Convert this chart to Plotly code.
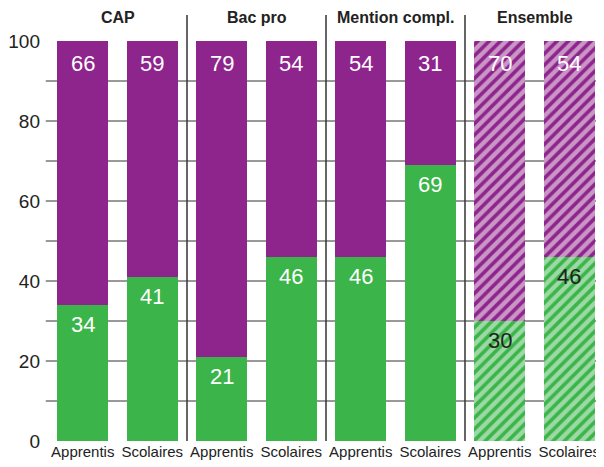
import plotly.graph_objects as go

groups = ["CAP", "Bac pro", "Mention compl.", "Ensemble"]
statuts = ["Apprentis", "Scolaires"]
vert = [34, 41, 21, 46, 46, 69, 30, 46]
violet = [66, 59, 79, 54, 54, 31, 70, 54]
y_ticks = [0, 20, 40, 60, 80, 100]

FONT = "Liberation Sans, Arial, sans-serif"
GREEN = "#3BB54A"
PURPLE = "#8E258D"
LGREEN = "#9DD9A4"
LPURPLE = "#C996C6"

n = len(vert)
x = list(range(n))
labels = statuts * len(groups)
k = n - len(statuts)  # first index of hatched "Ensemble" bars
hatched = [i >= k for i in x]
W = 0.73

fig = go.Figure()
# solid bars
fig.add_bar(x=x[:k], y=vert[:k], width=W, marker=dict(color=GREEN, line=dict(width=0)))
fig.add_bar(x=x[:k], y=violet[:k], width=W, base=vert[:k], marker=dict(color=PURPLE, line=dict(width=0)))
# hatched bars (Ensemble)
fig.add_bar(x=x[k:], y=vert[k:], width=W,
            marker=dict(color=LGREEN, line=dict(width=0),
                        pattern=dict(shape="/", fgcolor=GREEN, fgopacity=1, size=8, solidity=0.45, fillmode="overlay")))
fig.add_bar(x=x[k:], y=violet[k:], width=W, base=vert[k:],
            marker=dict(color=LPURPLE, line=dict(width=0),
                        pattern=dict(shape="/", fgcolor=PURPLE, fgopacity=1, size=8, solidity=0.45, fillmode="overlay")))

shapes = []
for v in range(10, 100, 10):
    shapes.append(dict(type="line", xref="paper", x0=-0.004, x1=1, yref="y", y0=v, y1=v,
                       line=dict(color="#333333", width=1), layer="below"))
for g in range(1, len(groups)):
    xs = g * len(statuts) - 0.5
    shapes.append(dict(type="line", xref="x", x0=xs, x1=xs, yref="paper", y0=0, y1=1.065,
                       line=dict(color="#333333", width=1.5), layer="below"))

ann = []
for i in x:
    ann.append(dict(x=i, y=vert[i] + violet[i], text=str(violet[i]), showarrow=False,
                    yanchor="top", yshift=-8, font=dict(family=FONT, size=22, color="white")))
    ann.append(dict(x=i, y=vert[i], text=str(vert[i]), showarrow=False,
                    yanchor="top", yshift=-5,
                    font=dict(family=FONT, size=22, color="#222222" if hatched[i] else "white")))
for gi, g in enumerate(groups):
    cx = gi * len(statuts) + (len(statuts) - 1) / 2
    ann.append(dict(x=cx, xref="x", y=1.058, yref="paper", text="<b>" + g + "</b>", showarrow=False,
                    yanchor="middle", font=dict(family=FONT, size=16, color="#222222")))

fig.update_layout(
    width=596, height=459, barmode="overlay", bargap=0,
    margin=dict(l=40, r=0, t=33, b=26),
    paper_bgcolor="white", plot_bgcolor="white", showlegend=False,
    shapes=shapes, annotations=ann,
    xaxis=dict(range=[-0.5, n - 0.5], tickvals=x, ticktext=labels, showgrid=False, zeroline=False,
               showline=False, ticks="", tickangle=0, automargin=False,
               tickfont=dict(family=FONT, size=15, color="#222222")),
    yaxis=dict(range=[0, 100], tickvals=y_ticks, showgrid=False, zeroline=False, showline=False,
               ticks="", ticklabelstandoff=7, automargin=False,
               tickfont=dict(family=FONT, size=19, color="#222222")),
)
fig.write_html("out.html")
